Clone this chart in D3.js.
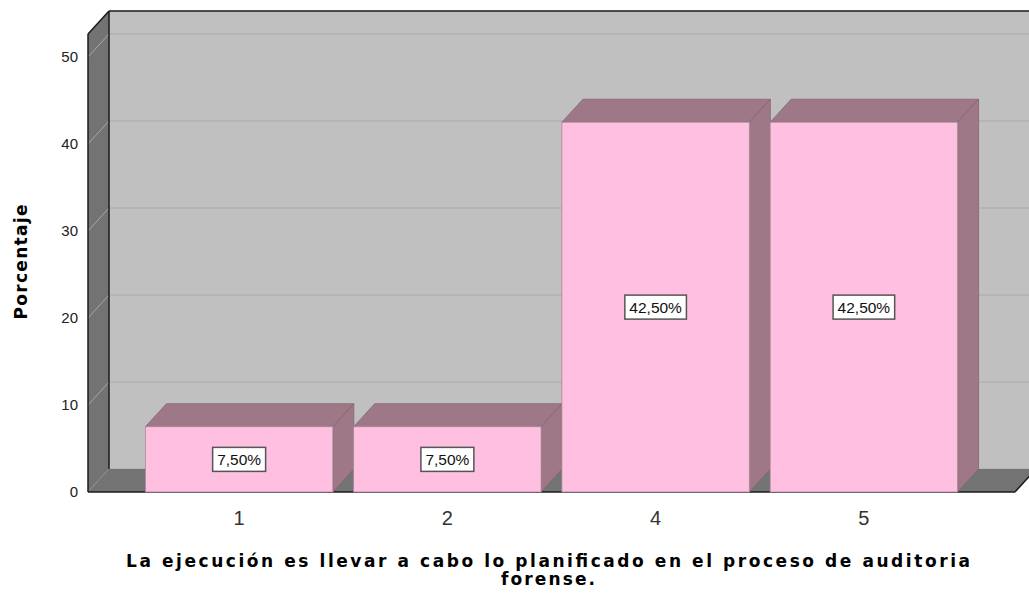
<!DOCTYPE html>
<html>
<head>
<meta charset="UTF-8">
<script src="https://cdn.jsdelivr.net/npm/d3@7"></script>
<style>
body { margin: 0; background: #fff; }
text { font-family: "Liberation Sans", Arial, sans-serif; }
.title { font-family: "DejaVu Sans", sans-serif; font-weight: bold; font-size: 17px; }
</style>
</head>
<body>
<svg id="chart" width="1029" height="595"></svg>
<script>
// data
var categories = ["1", "2", "4", "5"];
var percents = [7.5, 7.5, 42.5, 42.5];
var barLabels = ["7,50%", "7,50%", "42,50%", "42,50%"];
var yTicks = [0, 10, 20, 30, 40, 50];
var xTitle = ["La ejecución es llevar a cabo lo planificado en el proceso de auditoria", "forense."];
var yTitle = "Porcentaje";

var svg = d3.select("#chart"),
  dx = 21, dy = -23,           // 3d depth offset
  left = 88, right = 1015, base = 492, farRight = 1045,
  y = d3.scaleLinear().domain([0, 52.64]).range([base, 34]),
  x = d3.scaleBand().domain(categories).range([135, 968]).paddingInner(0.1).paddingOuter(0.05),
  line = d3.line();

// back wall
svg.append("rect")
  .attr("x", left + dx).attr("y", y(52.64) + dy)
  .attr("width", farRight - left - dx).attr("height", base - y(52.64))
  .attr("fill", "#c0c0c0");
svg.selectAll(".gridback").data(yTicks).enter().append("line")
  .attr("x1", left + dx).attr("x2", farRight)
  .attr("y1", function(d){ return y(d) + dy; }).attr("y2", function(d){ return y(d) + dy; })
  .attr("stroke", "#b2b2b2").attr("stroke-width", 1.5);

// side wall
svg.append("path")
  .attr("d", line([[left, y(52.64)], [left + dx, y(52.64) + dy], [left + dx, base + dy], [left, base]]) + "Z")
  .attr("fill", "#737373");
svg.selectAll(".gridside").data(yTicks).enter().append("line")
  .attr("x1", left).attr("x2", left + dx)
  .attr("y1", function(d){ return y(d); }).attr("y2", function(d){ return y(d) + dy; })
  .attr("stroke", "#a8a8a8").attr("stroke-width", 1);

// floor
svg.append("path")
  .attr("d", line([[left, base], [left + dx, base + dy], [right + dx, base + dy], [right, base]]) + "Z")
  .attr("fill", "#737373");

// outlines
var edges = [
  [[left + dx, y(52.64) + dy], [farRight, y(52.64) + dy]],
  [[left + dx, y(52.64) + dy], [left + dx, base + dy]],
  [[left, y(52.64)], [left + dx, y(52.64) + dy]],
  [[left, y(52.64)], [left, base]],
  [[left, base], [right, base]],
  [[right, base], [right + dx, base + dy]]
];
svg.selectAll(".edge").data(edges).enter().append("path")
  .attr("d", function(d){ return line(d); })
  .attr("fill", "none").attr("stroke", "#1a1a1a").attr("stroke-width", 1.5);

// bars
var bars = svg.selectAll(".bar").data(categories).enter().append("g");
bars.each(function(c, i){
  var g = d3.select(this),
    x0 = x(c), w = x.bandwidth(), top = y(percents[i]);
  g.append("path")
    .attr("d", line([[x0, top], [x0 + dx, top + dy], [x0 + w + dx, top + dy], [x0 + w, top]]) + "Z")
    .attr("fill", "#9e7886").attr("stroke", "#86636f").attr("stroke-width", 0.8);
  g.append("path")
    .attr("d", line([[x0 + w, top], [x0 + w + dx, top + dy], [x0 + w + dx, base + dy], [x0 + w, base]]) + "Z")
    .attr("fill", "#9e7886").attr("stroke", "#86636f").attr("stroke-width", 0.8);
  g.append("rect")
    .attr("x", x0).attr("y", top).attr("width", w).attr("height", base - top)
    .attr("fill", "#ffbfe0").attr("stroke", "#a88a98").attr("stroke-width", 0.8);
  var cx = x0 + w / 2, cy = (top + base) / 2;
  var box = g.append("rect").attr("fill", "#fff").attr("stroke", "#555").attr("stroke-width", 1.5);
  var t = g.append("text")
    .attr("x", cx).attr("y", cy).attr("dy", "0.35em")
    .attr("text-anchor", "middle").attr("font-size", 15.5).attr("fill", "#111")
    .text(barLabels[i]);
  var tw = t.node().getComputedTextLength() + 9;
  box.attr("x", cx - tw / 2).attr("y", cy - 12).attr("width", tw).attr("height", 24);
});

// y axis labels
svg.selectAll(".ytick").data(yTicks).enter().append("text")
  .attr("x", 78).attr("y", function(d){ return y(d); }).attr("dy", "0.35em")
  .attr("text-anchor", "end").attr("font-size", 15).attr("fill", "#222")
  .text(function(d){ return d; });

// x axis labels
svg.selectAll(".xtick").data(categories).enter().append("text")
  .attr("x", function(d){ return x(d) + x.bandwidth() / 2; }).attr("y", 518).attr("dy", "0.35em")
  .attr("text-anchor", "middle").attr("font-size", 20).attr("fill", "#333")
  .text(function(d){ return d; });

// titles
svg.append("text").attr("class", "title")
  .attr("x", 548).attr("y", 567)
  .attr("text-anchor", "middle")
  .attr("textLength", 844).attr("lengthAdjust", "spacing")
  .text(xTitle[0]);
svg.append("text").attr("class", "title")
  .attr("x", 548).attr("y", 585)
  .attr("text-anchor", "middle")
  .attr("textLength", 94).attr("lengthAdjust", "spacing")
  .text(xTitle[1]);
svg.append("text").attr("class", "title")
  .attr("transform", "translate(27,262) rotate(-90)")
  .attr("text-anchor", "middle")
  .attr("textLength", 115).attr("lengthAdjust", "spacing")
  .text(yTitle);
</script>
</body>
</html>
